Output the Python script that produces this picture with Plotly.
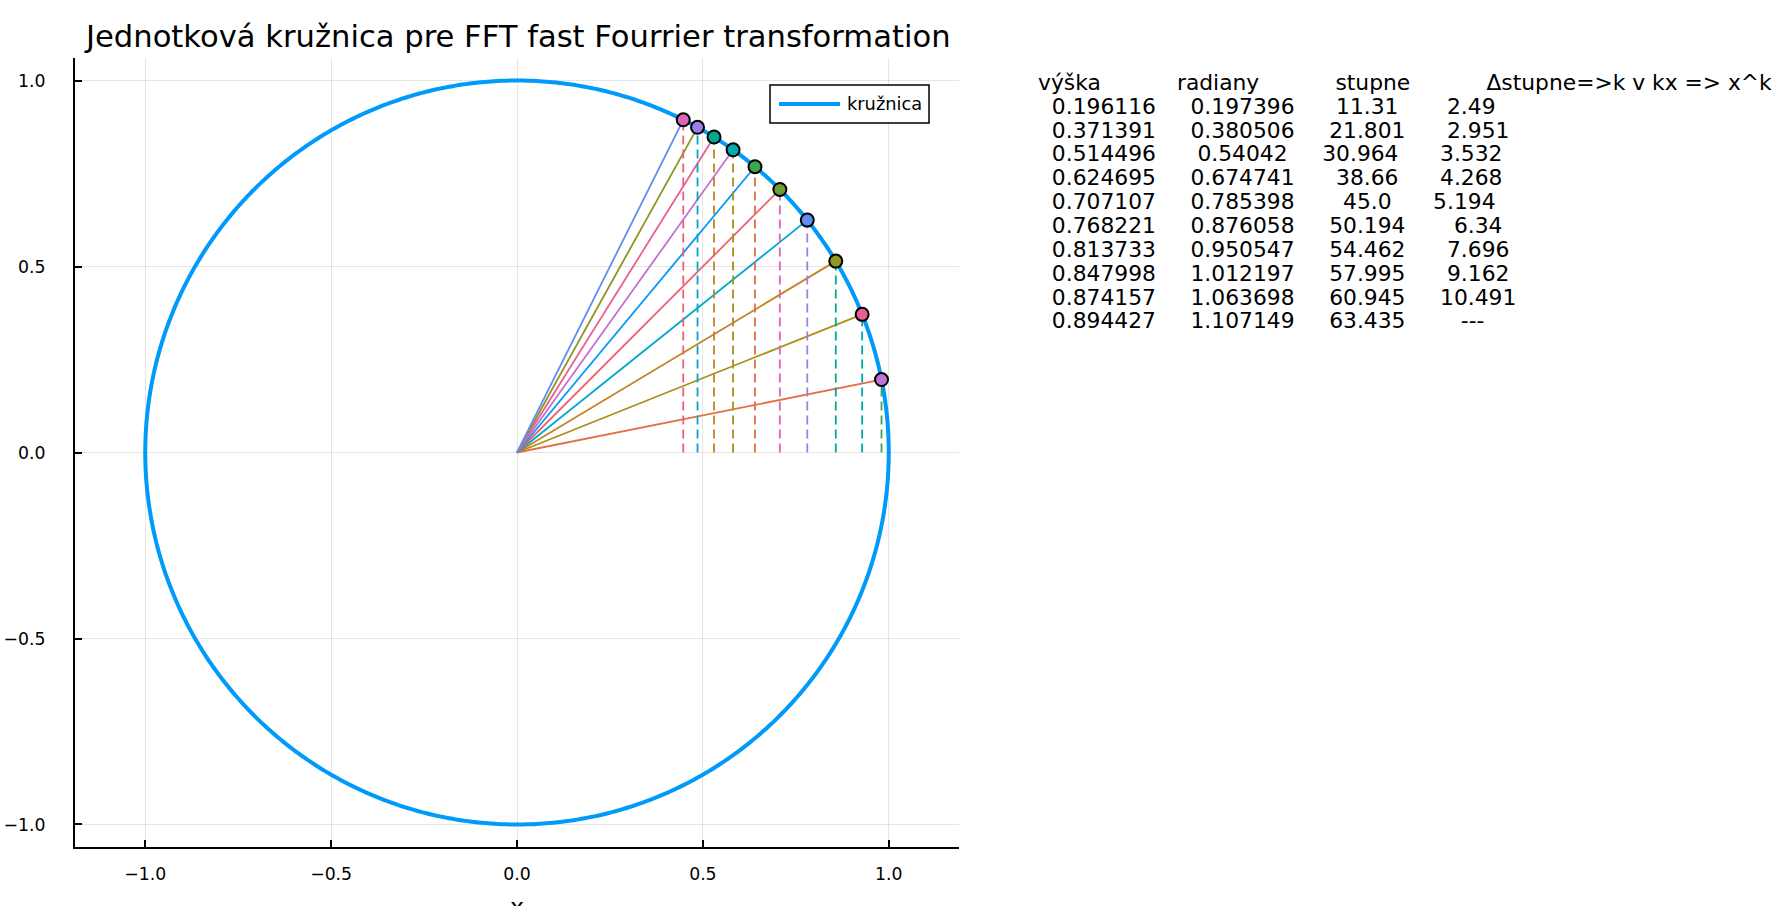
import numpy as np
import plotly.graph_objects as go

# ---- data ----
vyska = [0.196116, 0.371391, 0.514496, 0.624695, 0.707107,
         0.768221, 0.813733, 0.847998, 0.874157, 0.894427]
radiany = [0.197396, 0.380506, 0.54042, 0.674741, 0.785398,
           0.876058, 0.950547, 1.012197, 1.063698, 1.107149]
stupne = [11.31, 21.801, 30.964, 38.66, 45.0,
          50.194, 54.462, 57.995, 60.945, 63.435]
delta_stupne = [2.49, 2.951, 3.532, 4.268, 5.194,
                6.34, 7.696, 9.162, 10.491, None]
header = ["výška", "radiany", "stupne", "Δstupne=>k v kx => x^k"]
tick_vals = [-1.0, -0.5, 0.0, 0.5, 1.0]
circle_name = "kružnica"
title_text = "Jednotková kružnica pre FFT fast Fourrier transformation"

# Plots.jl default palette (16 colours)
palette = ["#009AFA", "#E36F47", "#3EA44E", "#C371D2", "#AC8E18", "#00AAAE",
           "#ED5E93", "#C68225", "#00A98D", "#8E971E", "#00A8CC", "#9B7FE8",
           "#618DF6", "#F06073", "#DD65B6", "#6C9F33"]

FONT = "DejaVu Sans"
W, H = 1781, 906
ML, MR, MT, MB = 75, 1781 - 959, 58, H - 847
PW, PH = W - ML - MR, H - MT - MB


def px_x(px):
    return (px - ML) / PW


def px_y(py):
    return (H - MB - py) / PH


fig = go.Figure()

# unit circle
t = np.linspace(0, 2 * np.pi, 721)
fig.add_trace(go.Scatter(x=np.cos(t), y=np.sin(t), mode="lines", name=circle_name,
                         showlegend=False,
                         line=dict(color=palette[0], width=4, simplify=False),
                         hoverinfo="skip"))

for i, (h, r) in enumerate(zip(vyska, radiany)):
    xi = float(np.cos(r))
    s = 1 + 3 * i
    fig.add_trace(go.Scatter(x=[0, xi], y=[0, h], mode="lines", showlegend=False,
                             line=dict(color=palette[s % 16], width=1.8)))
    fig.add_trace(go.Scatter(x=[xi, xi], y=[0, h], mode="lines", showlegend=False,
                             line=dict(color=palette[(s + 1) % 16], width=1.8, dash="9px,5px")))
    fig.add_trace(go.Scatter(x=[xi], y=[h], mode="markers", showlegend=False,
                             marker=dict(color=palette[(s + 2) % 16], size=13,
                                         line=dict(color="black", width=2))))

# ---- table text ----
NB = "\u00a0"
TFS = 21.8
annotations = []
head_str = (NB * 11).join(header)
annotations.append(dict(text=head_str, xref="paper", yref="paper", x=px_x(1036), y=px_y(82.5),
                        xanchor="left", yanchor="middle", showarrow=False,
                        font=dict(family=FONT, size=TFS, color="black")))
for k in range(len(vyska)):
    d = "---" if delta_stupne[k] is None else str(delta_stupne[k])
    row = (str(vyska[k]).rjust(10, NB) + str(radiany[k]).rjust(13, NB)
           + str(stupne[k]).rjust(11, NB) + d.rjust(11, NB))
    annotations.append(dict(text=row, xref="paper", yref="paper", x=px_x(1036),
                            y=px_y(106.2 + 23.85 * k), xanchor="left", yanchor="middle",
                            showarrow=False, font=dict(family=FONT, size=TFS, color="black")))

# title
annotations.append(dict(text=title_text, xref="paper", yref="paper", x=px_x(517.5), y=px_y(36),
                        xanchor="center", yanchor="middle", showarrow=False,
                        font=dict(family=FONT, size=30.6, color="black")))
# x guide (cut at the bottom edge)
annotations.append(dict(text="x", xref="paper", yref="paper", x=0.5, y=px_y(906.5),
                        xanchor="center", yanchor="middle", showarrow=False,
                        font=dict(family=FONT, size=23.8, color="black")))

# legend box drawn like the reference (long line sample)
LX0, LX1, LY0, LY1 = 770, 929, 85, 123
LYM = (LY0 + LY1) / 2
shapes = [
    dict(type="rect", xref="paper", yref="paper", x0=px_x(LX0), x1=px_x(LX1),
         y0=px_y(LY1), y1=px_y(LY0), line=dict(color="black", width=1.5),
         fillcolor="white", layer="above"),
    dict(type="line", xref="paper", yref="paper", x0=px_x(779), x1=px_x(840),
         y0=px_y(LYM), y1=px_y(LYM), line=dict(color=palette[0], width=4), layer="above"),
]
annotations.append(dict(text=circle_name, xref="paper", yref="paper", x=px_x(845), y=px_y(LYM),
                        xanchor="left", yanchor="middle", showarrow=False,
                        font=dict(family=FONT, size=17.8, color="black")))

axis_common = dict(tickvals=tick_vals, tickformat=".1f", showgrid=True,
                   gridcolor="rgba(0,0,0,0.1)", gridwidth=1, zeroline=False,
                   showline=True, linecolor="black", linewidth=2, mirror=False,
                   ticks="inside", ticklen=7, tickwidth=1.5, tickcolor="black",
                   automargin=False,
                   tickfont=dict(family=FONT, size=17.3, color="black"))

fig.update_layout(
    width=W, height=H,
    margin=dict(l=ML, r=MR, t=MT, b=MB, pad=0, autoexpand=False),
    paper_bgcolor="white", plot_bgcolor="white",
    xaxis=dict(range=[-1.189, 1.189], ticklabelstandoff=10, **axis_common),
    yaxis=dict(range=[-1.0605, 1.0605], ticklabelstandoff=24, **axis_common),
    annotations=annotations,
    shapes=shapes,
    showlegend=False,
)

fig.write_html("out.html")
